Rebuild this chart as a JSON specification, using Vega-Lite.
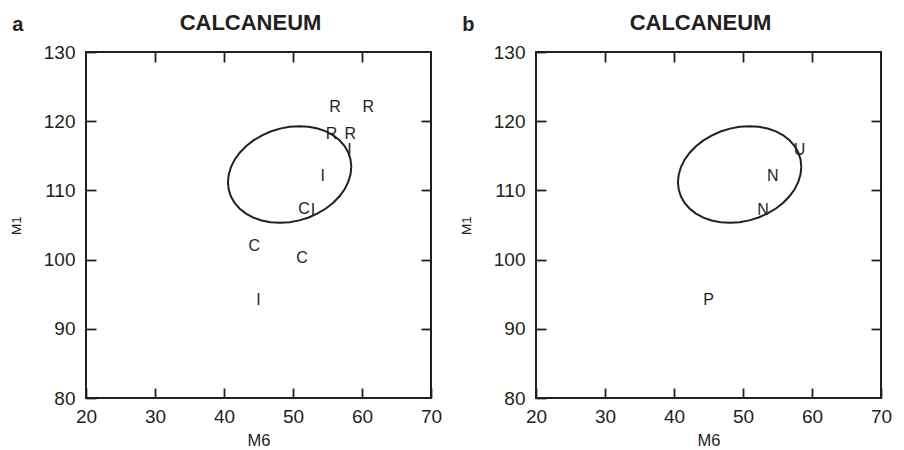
{
  "$schema": "https://vega.github.io/schema/vega-lite/v6.json",
  "background": "white",
  "padding": {"left": 8, "top": 10, "right": 0, "bottom": 0},
  "spacing": 15,
  "datasets": {
    "ellipse": [
      {"i": 0, "M6": 58.45, "M1": 113.41},
      {"i": 1, "M6": 58.34, "M1": 112.32},
      {"i": 2, "M6": 58.01, "M1": 111.23},
      {"i": 3, "M6": 57.48, "M1": 110.16},
      {"i": 4, "M6": 56.74, "M1": 109.15},
      {"i": 5, "M6": 55.83, "M1": 108.21},
      {"i": 6, "M6": 54.77, "M1": 107.38},
      {"i": 7, "M6": 53.57, "M1": 106.67},
      {"i": 8, "M6": 52.27, "M1": 106.09},
      {"i": 9, "M6": 50.91, "M1": 105.67},
      {"i": 10, "M6": 49.51, "M1": 105.41},
      {"i": 11, "M6": 48.11, "M1": 105.32},
      {"i": 12, "M6": 46.75, "M1": 105.40},
      {"i": 13, "M6": 45.45, "M1": 105.66},
      {"i": 14, "M6": 44.26, "M1": 106.07},
      {"i": 15, "M6": 43.19, "M1": 106.64},
      {"i": 16, "M6": 42.28, "M1": 107.35},
      {"i": 17, "M6": 41.54, "M1": 108.18},
      {"i": 18, "M6": 41.01, "M1": 109.11},
      {"i": 19, "M6": 40.68, "M1": 110.12},
      {"i": 20, "M6": 40.57, "M1": 111.19},
      {"i": 21, "M6": 40.68, "M1": 112.28},
      {"i": 22, "M6": 41.01, "M1": 113.37},
      {"i": 23, "M6": 41.54, "M1": 114.44},
      {"i": 24, "M6": 42.28, "M1": 115.45},
      {"i": 25, "M6": 43.19, "M1": 116.39},
      {"i": 26, "M6": 44.26, "M1": 117.22},
      {"i": 27, "M6": 45.45, "M1": 117.93},
      {"i": 28, "M6": 46.75, "M1": 118.51},
      {"i": 29, "M6": 48.11, "M1": 118.93},
      {"i": 30, "M6": 49.51, "M1": 119.19},
      {"i": 31, "M6": 50.91, "M1": 119.28},
      {"i": 32, "M6": 52.27, "M1": 119.20},
      {"i": 33, "M6": 53.57, "M1": 118.94},
      {"i": 34, "M6": 54.77, "M1": 118.53},
      {"i": 35, "M6": 55.83, "M1": 117.96},
      {"i": 36, "M6": 56.74, "M1": 117.25},
      {"i": 37, "M6": 57.48, "M1": 116.42},
      {"i": 38, "M6": 58.01, "M1": 115.49},
      {"i": 39, "M6": 58.34, "M1": 114.48},
      {"i": 40, "M6": 58.45, "M1": 113.41}
    ],
    "groupsA": [
      {"M6": 56.1, "M1": 122.0, "label": "R"},
      {"M6": 60.9, "M1": 122.1, "label": "R"},
      {"M6": 55.6, "M1": 118.2, "label": "R"},
      {"M6": 58.3, "M1": 118.2, "label": "R"},
      {"M6": 58.2, "M1": 115.8, "label": "I"},
      {"M6": 54.3, "M1": 112.1, "label": "I"},
      {"M6": 51.6, "M1": 107.3, "label": "C"},
      {"M6": 52.9, "M1": 107.1, "label": "I"},
      {"M6": 44.4, "M1": 101.9, "label": "C"},
      {"M6": 51.3, "M1": 100.3, "label": "C"},
      {"M6": 45.0, "M1": 94.1, "label": "I"}
    ],
    "groupsB": [
      {"M6": 58.2, "M1": 115.8, "label": "U"},
      {"M6": 54.3, "M1": 112.1, "label": "N"},
      {"M6": 52.9, "M1": 107.1, "label": "N"},
      {"M6": 45.0, "M1": 94.1, "label": "P"}
    ]
  },
  "hconcat": [
    {
      "width": 345,
      "height": 346,
      "layer": [
        {
          "data": {"name": "ellipse"},
          "mark": {"type": "line", "color": "#231f20", "strokeWidth": 2},
          "encoding": {
            "x": {
              "field": "M6", "type": "quantitative",
              "scale": {"domain": [20, 70], "nice": false, "zero": false},
              "axis": {"orient": "bottom", "values": [20, 30, 40, 50, 60, 70], "labelPadding": 19, "title": "M6", "titleFontSize": 16.5, "titleY": 47, "titleBaseline": "alphabetic"}
            },
            "y": {
              "field": "M1", "type": "quantitative",
              "scale": {"domain": [80, 130], "nice": false, "zero": false},
              "axis": {"orient": "left", "values": [80, 90, 100, 110, 120, 130], "labelPadding": 21, "title": "M1", "titleFontSize": 13.5, "titleX": -70, "titleY": 173, "titleAngle": -90, "titleAlign": "center", "titleBaseline": "middle"}
            },
            "order": {"field": "i", "type": "quantitative"}
          }
        },
        {
          "data": {"name": "groupsA"},
          "mark": {"type": "text", "font": "Liberation Sans", "fontSize": 16, "color": "#231f20", "align": "center", "baseline": "middle"},
          "encoding": {
            "x": {
              "field": "M6", "type": "quantitative",
              "axis": {"orient": "top", "values": [30, 40, 50, 60], "labels": false, "title": "CALCANEUM", "titleFontSize": 22, "titleFontWeight": "bold", "titleX": 164, "titleY": -23, "titleAlign": "center", "titleBaseline": "alphabetic"}
            },
            "y": {
              "field": "M1", "type": "quantitative",
              "axis": {"orient": "right", "values": [90, 100, 110, 120], "labels": false, "title": "a", "titleFontSize": 20, "titleFontWeight": "bold", "titleAngle": 0, "titleX": -419.3, "titleY": -22, "titleAlign": "left", "titleBaseline": "alphabetic"}
            },
            "text": {"field": "label"}
          }
        }
      ],
      "resolve": {"axis": {"x": "independent", "y": "independent"}}
    },
    {
      "width": 345,
      "height": 346,
      "layer": [
        {
          "data": {"name": "ellipse"},
          "mark": {"type": "line", "color": "#231f20", "strokeWidth": 2},
          "encoding": {
            "x": {
              "field": "M6", "type": "quantitative",
              "scale": {"domain": [20, 70], "nice": false, "zero": false},
              "axis": {"orient": "bottom", "values": [20, 30, 40, 50, 60, 70], "labelPadding": 19, "title": "M6", "titleFontSize": 16.5, "titleY": 47, "titleBaseline": "alphabetic"}
            },
            "y": {
              "field": "M1", "type": "quantitative",
              "scale": {"domain": [80, 130], "nice": false, "zero": false},
              "axis": {"orient": "left", "values": [80, 90, 100, 110, 120, 130], "labelPadding": 21, "title": "M1", "titleFontSize": 13.5, "titleX": -70, "titleY": 173, "titleAngle": -90, "titleAlign": "center", "titleBaseline": "middle"}
            },
            "order": {"field": "i", "type": "quantitative"}
          }
        },
        {
          "data": {"name": "groupsB"},
          "mark": {"type": "text", "font": "Liberation Sans", "fontSize": 16, "color": "#231f20", "align": "center", "baseline": "middle"},
          "encoding": {
            "x": {
              "field": "M6", "type": "quantitative",
              "axis": {"orient": "top", "values": [30, 40, 50, 60], "labels": false, "title": "CALCANEUM", "titleFontSize": 22, "titleFontWeight": "bold", "titleX": 164, "titleY": -23, "titleAlign": "center", "titleBaseline": "alphabetic"}
            },
            "y": {
              "field": "M1", "type": "quantitative",
              "axis": {"orient": "right", "values": [90, 100, 110, 120], "labels": false, "title": "b", "titleFontSize": 20, "titleFontWeight": "bold", "titleAngle": 0, "titleX": -419.3, "titleY": -22, "titleAlign": "left", "titleBaseline": "alphabetic"}
            },
            "text": {"field": "label"}
          }
        }
      ],
      "resolve": {"axis": {"x": "independent", "y": "independent"}}
    }
  ],
  "config": {
    "view": {"stroke": "#231f20", "strokeWidth": 2},
    "axis": {
      "grid": false,
      "domain": false,
      "ticks": true,
      "tickSize": -10,
      "tickWidth": 1.8,
      "tickColor": "#231f20",
      "labelFont": "Liberation Sans",
      "labelFontSize": 19,
      "labelColor": "#231f20",
      "labelFlush": false,
      "labelOverlap": false,
      "titleFont": "Liberation Sans",
      "titleColor": "#231f20",
      "titleFontWeight": "normal"
    }
  }
}
